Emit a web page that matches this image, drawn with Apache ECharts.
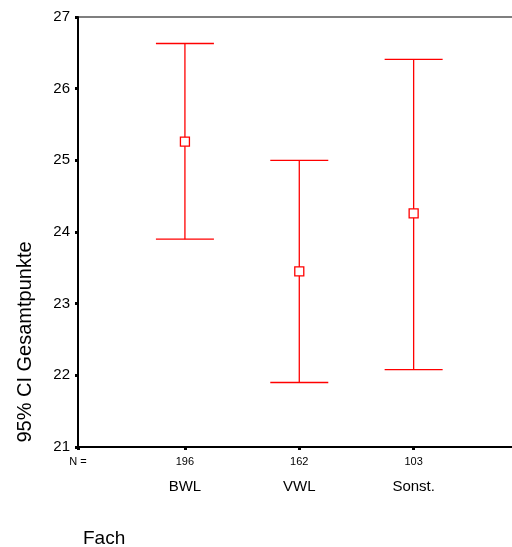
<!DOCTYPE html>
<html>
<head>
<meta charset="utf-8">
<script src="https://cdn.jsdelivr.net/npm/echarts@6/dist/echarts.min.js"></script>
<style>
  html, body { margin: 0; padding: 0; background: #fff; }
  #chart { width: 512px; height: 547px; }
</style>
</head>
<body>
<div id="chart"></div>
<script>
// Fach groups, group sizes and 95% confidence intervals of Gesamtpunkte
const categories = ['BWL', 'VWL', 'Sonst.'];
const counts = [196, 162, 103];
const means = [25.26, 23.45, 24.26];
const lower = [23.90, 21.90, 22.08];
const upper = [26.63, 25.00, 26.41];
const positions = [1, 2, 3];

const yMin = 21, yMax = 27, yStep = 1;
const xMin = 0.065, xMax = 4;

const RED = '#ff0000';
const FONT = '"Liberation Sans", Arial, sans-serif';

const chart = echarts.init(document.getElementById('chart'), null, { renderer: 'canvas' });

function labelFor(v) {
  const i = positions.findIndex(p => Math.abs(p - v) < 1e-6);
  if (i >= 0) return '{n|' + counts[i] + '}\n{c|' + categories[i] + '}';
  if (Math.abs(v - xMin) < 1e-6) return '{n|N =}\n{c| }';
  return '';
}

chart.setOption({
  animation: false,
  backgroundColor: '#fff',
  title: {
    text: 'Fach',
    left: 78,
    top: 524,
    textStyle: { fontFamily: FONT, fontSize: 19, fontWeight: 'normal', color: '#000' }
  },
  graphic: [{
    type: 'text',
    x: 25,
    y: 342,
    rotation: Math.PI / 2,
    style: {
      text: '95% CI Gesamtpunkte',
      fontFamily: FONT,
      fontSize: 20,
      fill: '#000',
      align: 'center',
      verticalAlign: 'middle'
    }
  }],
  grid: {
    left: 78,
    top: 17,
    width: 450,
    height: 430,
    outerBoundsMode: 'none',
    containLabel: false,
    show: true,
    borderColor: '#000',
    borderWidth: 1.2,
    backgroundColor: 'transparent'
  },
  xAxis: {
    type: 'value',
    min: xMin,
    max: xMax,
    splitLine: { show: false },
    axisLine: { show: true, onZero: false, lineStyle: { color: '#000', width: 2 } },
    axisTick: {
      show: true,
      customValues: [xMin].concat(positions),
      length: 3,
      lineStyle: { color: '#000', width: 3 }
    },
    axisLabel: {
      customValues: [xMin].concat(positions),
      margin: 4,
      formatter: labelFor,
      rich: {
        n: { fontFamily: FONT, fontSize: 11, color: '#000', lineHeight: 22 },
        c: { fontFamily: FONT, fontSize: 15, color: '#000', lineHeight: 27 }
      }
    }
  },
  yAxis: {
    type: 'value',
    min: yMin,
    max: yMax,
    interval: yStep,
    splitLine: { show: false },
    axisLine: { show: true, onZero: false, lineStyle: { color: '#000', width: 2 } },
    axisTick: { show: true, length: 3, lineStyle: { color: '#000', width: 3 } },
    axisLabel: {
      margin: 8,
      fontFamily: FONT,
      fontSize: 15,
      color: '#000',
      showMinLabel: true,
      showMaxLabel: true
    }
  },
  series: [
    {
      type: 'custom',
      name: 'CI',
      data: positions.map((p, i) => [p, lower[i], upper[i]]),
      renderItem: function (params, api) {
        const x = api.value(0);
        const lo = api.coord([x, api.value(1)]);
        const hi = api.coord([x, api.value(2)]);
        const half = 29;
        const style = { stroke: RED, lineWidth: 1.3, fill: null };
        return {
          type: 'group',
          children: [
            { type: 'line', shape: { x1: lo[0], y1: lo[1], x2: hi[0], y2: hi[1] }, style: style },
            { type: 'line', shape: { x1: hi[0] - half, y1: hi[1], x2: hi[0] + half, y2: hi[1] }, style: style },
            { type: 'line', shape: { x1: lo[0] - half, y1: lo[1], x2: lo[0] + half, y2: lo[1] }, style: style }
          ]
        };
      },
      z: 2
    },
    {
      type: 'scatter',
      name: 'Mittelwert',
      data: positions.map((p, i) => [p, means[i]]),
      symbol: 'rect',
      symbolSize: 9,
      itemStyle: { color: '#fff', borderColor: RED, borderWidth: 1.3, opacity: 1 },
      emphasis: { disabled: true },
      z: 3
    }
  ]
});
</script>
</body>
</html>
